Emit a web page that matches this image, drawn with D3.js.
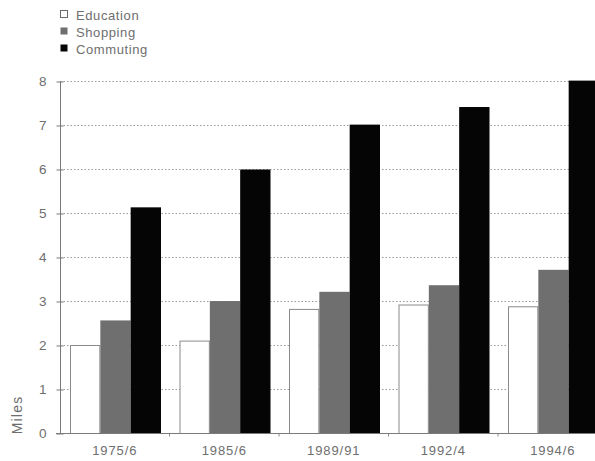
<!DOCTYPE html>
<html><head><meta charset="utf-8">
<script src="https://cdn.jsdelivr.net/npm/d3@7"></script>
<style>
html,body{margin:0;padding:0;background:#fff;}
svg{display:block;}
text{font-family:"Liberation Sans","Helvetica",Arial,sans-serif;fill:#6e6e6e;}
</style></head>
<body>
<script>
const categories = ["1975/6","1985/6","1989/91","1992/4","1994/6"];
const seriesNames = ["Education","Shopping","Commuting"];
const education = [2.0, 2.1, 2.82, 2.92, 2.88];
const shopping = [2.57, 3.01, 3.22, 3.37, 3.72];
const commuting = [5.14, 6.0, 7.02, 7.42, 8.02];
const yTicks = [0,1,2,3,4,5,6,7,8];
const seriesValues = [education, shopping, commuting];
const fills = ["#ffffff", "#6f6f6f", "#050505"];
const strokes = ["#8a8a8a", "none", "none"];

const W = 595, H = 461;
const svg = d3.select("body").append("svg").attr("width", W).attr("height", H);

const x = d3.scaleBand().domain(categories).range([60, 607.5]).padding(0);
const xs = d3.scaleBand().domain(seriesNames).range([10, 101]).padding(0);
const y = d3.scaleLinear().domain([0, 8]).range([433.5, 81.5]);

// gridlines
svg.append("g").selectAll("line").data(yTicks.filter(d => d > 0)).join("line")
  .attr("x1", 60).attr("x2", W)
  .attr("y1", d => y(d)).attr("y2", d => y(d))
  .attr("stroke", "#9a9a9a").attr("stroke-width", 1)
  .attr("stroke-dasharray", "1.5,2");

// bars
const rows = [];
categories.forEach((c, i) => seriesNames.forEach((s, j) => rows.push({c, s, j, v: seriesValues[j][i]})));
svg.append("g").selectAll("rect").data(rows).join("rect")
  .attr("x", d => x(d.c) + xs(d.s) + (d.j === 0 ? 0.5 : 0))
  .attr("width", d => xs.bandwidth() - (d.j === 0 ? 1 : 0))
  .attr("y", d => y(d.v))
  .attr("height", d => y(0) - y(d.v))
  .attr("fill", d => fills[d.j])
  .attr("stroke", d => strokes[d.j])
  .attr("stroke-width", 1);

// y axis
const yAxis = d3.axisLeft(y).tickValues(yTicks).tickSize(4).tickPadding(10).tickFormat(d3.format("d"));
const gy = svg.append("g").attr("transform", "translate(60.5,0)").call(yAxis);
gy.select(".domain").attr("stroke", "#7a7a7a").attr("d", `M0,${y(8)}V${y(0)}`);
gy.selectAll(".tick line").attr("stroke", "#7a7a7a").attr("x1", 3);
gy.selectAll(".tick text").attr("font-size", 13.5).attr("fill", "#6e6e6e").attr("font-family", '"Liberation Sans",Arial,sans-serif');

// x axis
const gx = svg.append("g").attr("transform", `translate(0,${y(0)})`);
gx.append("line").attr("x1", 56).attr("x2", W).attr("y1", 0).attr("y2", 0).attr("stroke", "#7a7a7a");
gx.selectAll("line.tk").data(categories.slice(1)).join("line").attr("class", "tk")
  .attr("x1", d => x(d)).attr("x2", d => x(d)).attr("y1", 0).attr("y2", 3).attr("stroke", "#8a8a8a");
gx.selectAll("text").data(categories).join("text")
  .attr("x", d => x(d) + x.bandwidth() / 2)
  .attr("y", 21)
  .attr("text-anchor", "middle")
  .attr("font-size", 13)
  .attr("letter-spacing", "0.9px")
  .text(d => d);

// y label
svg.append("text").attr("transform", "translate(22,415) rotate(-90)")
  .attr("text-anchor", "middle").attr("font-size", 14).attr("letter-spacing", "1.2px").text("Miles");

// legend
const lg = svg.append("g").selectAll("g").data(seriesNames).join("g")
  .attr("transform", (d, i) => `translate(60,${15 + i * 17})`);
lg.append("rect").attr("x", 0.5).attr("y", -4.5).attr("width", 7).attr("height", 7)
  .attr("fill", (d, i) => fills[i]).attr("stroke", (d, i) => i === 0 ? "#6a6a6a" : "none");
lg.append("text").attr("x", 16).attr("y", 0).attr("dy", "0.35em")
  .attr("font-size", 13).attr("letter-spacing", "0.6px").text(d => d);
</script>
</body></html>
